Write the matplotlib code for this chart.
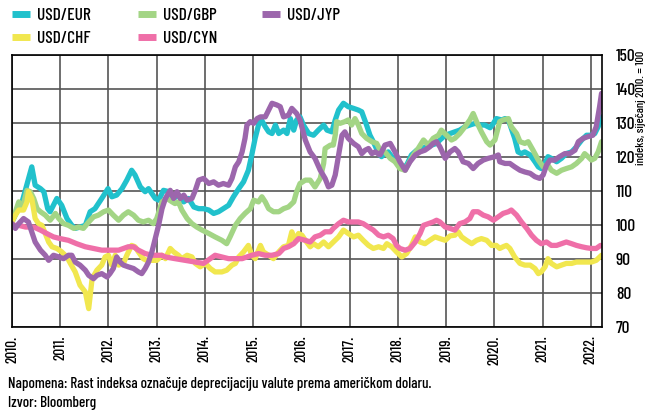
import matplotlib
matplotlib.use("Agg")
import matplotlib.pyplot as plt
import numpy as np

plt.rcParams['font.family'] = ['Barlow Condensed', 'DejaVu Sans']
plt.rcParams['font.weight'] = 'medium'

BASE = 2010.0

# years since January 2010, and index values (Jan 2010 = 100)
eur_t = [0, 0.10, 0.21, 0.41, 0.48, 0.59, 0.66, 0.74, 0.79, 0.93, 1.03, 1.14, 1.24, 1.31, 1.41, 1.52,
         1.62, 1.72, 1.86, 1.99, 2.07, 2.17, 2.28, 2.38, 2.48, 2.55, 2.66, 2.76, 2.83, 2.97, 3.04, 3.14,
         3.25, 3.35, 3.45, 3.56, 3.66, 3.77, 3.87, 3.97, 4.08, 4.18, 4.28, 4.38, 4.49, 4.59, 4.70, 4.80,
         4.90, 4.97, 5.04, 5.11, 5.17, 5.25, 5.32, 5.39, 5.46, 5.53, 5.63, 5.70, 5.77, 5.84, 5.90, 5.97,
         6.04, 6.15, 6.25, 6.35, 6.46, 6.53, 6.63, 6.70, 6.77, 6.87, 6.97, 7.08, 7.18, 7.25, 7.35, 7.42,
         7.49, 7.60, 7.66, 7.73, 7.80, 7.90, 8.01, 8.11, 8.18, 8.28, 8.39, 8.49, 8.59, 8.70, 8.80, 8.87,
         8.98, 9.08, 9.18, 9.28, 9.39, 9.49, 9.60, 9.70, 9.80, 9.91, 9.98, 10.04, 10.15, 10.22, 10.29,
         10.35, 10.42, 10.49, 10.56, 10.63, 10.74, 10.84, 10.91, 10.97, 11.05, 11.11, 11.18, 11.29,
         11.39, 11.49, 11.60, 11.70, 11.81, 11.91, 12.01, 12.08, 12.15, 12.22]
eur_v = [100.9, 103.9, 106.8, 117.1, 111.7, 110.7, 109.8, 104.8, 103.9, 107.8, 105.8, 101.9, 99.9, 99.0,
         99.4, 99.9, 103.9, 104.8, 107.8, 110.7, 108.3, 108.8, 110.7, 113.2, 116.1, 114.7, 111.2, 109.8,
         110.7, 107.8, 107.3, 110.2, 109.8, 107.8, 108.8, 106.8, 107.8, 105.3, 104.8, 104.8, 104.4, 103.4,
         103.9, 104.8, 105.8, 108.3, 110.7, 112.7, 116.1, 120.6, 125.5, 129.4, 130.9, 128.9, 127.4, 126.9,
         129.4, 126.9, 127.9, 126.9, 131.3, 127.9, 130.9, 131.8, 129.4, 126.9, 126.4, 127.9, 129.4, 127.9,
         127.4, 130.9, 133.8, 135.8, 134.8, 134.3, 133.8, 133.3, 129.4, 126.4, 124.5, 121.0, 120.1, 121.0,
         121.5, 119.6, 117.6, 117.1, 117.6, 120.6, 122.0, 122.5, 123.0, 123.5, 124.0, 125.0, 126.4, 126.9,
         127.4, 127.9, 128.9, 129.4, 129.9, 129.4, 129.4, 128.6, 129.9, 131.3, 130.9, 131.3, 130.9, 128.4,
         125.5, 121.5, 121.0, 121.5, 120.6, 118.6, 117.1, 116.6, 118.1, 120.1, 119.6, 118.6, 119.6, 121.0,
         121.5, 123.0, 125.0, 126.4, 126.4, 126.9, 128.9, 131.8]

gbp_t = [0, 0.07, 0.14, 0.21, 0.31, 0.38, 0.45, 0.52, 0.59, 0.69, 0.79, 0.90, 0.97, 1.07, 1.17, 1.28,
         1.38, 1.48, 1.59, 1.69, 1.79, 1.90, 2.00, 2.10, 2.21, 2.31, 2.41, 2.52, 2.62, 2.72, 2.83, 2.93,
         3.00, 3.11, 3.21, 3.32, 3.38, 3.45, 3.52, 3.63, 3.73, 3.83, 3.94, 4.08, 4.21, 4.35, 4.45, 4.52,
         4.63, 4.73, 4.83, 4.94, 5.01, 5.11, 5.18, 5.25, 5.32, 5.42, 5.53, 5.63, 5.73, 5.84, 5.90, 5.97,
         6.08, 6.18, 6.28, 6.39, 6.46, 6.49, 6.60, 6.66, 6.70, 6.73, 6.80, 6.90, 6.97, 7.04, 7.11, 7.18,
         7.25, 7.35, 7.46, 7.56, 7.63, 7.73, 7.84, 7.94, 8.04, 8.15, 8.22, 8.32, 8.42, 8.53, 8.63, 8.73,
         8.84, 8.90, 9.01, 9.11, 9.18, 9.28, 9.39, 9.49, 9.56, 9.63, 9.73, 9.84, 9.91, 10.01, 10.11,
         10.18, 10.29, 10.35, 10.46, 10.53, 10.63, 10.70, 10.80, 10.91, 11.01, 11.11, 11.18, 11.29,
         11.39, 11.49, 11.60, 11.70, 11.81, 11.87, 11.94, 12.01, 12.08, 12.15, 12.22]
gbp_v = [100.9, 103.9, 106.8, 104.8, 110.2, 109.8, 107.8, 104.8, 103.9, 102.9, 101.4, 103.4, 101.9,
         100.4, 99.9, 99.0, 99.4, 99.0, 100.9, 102.4, 102.9, 103.9, 104.4, 102.9, 101.4, 102.9, 103.9,
         102.9, 101.4, 100.9, 101.4, 100.4, 101.9, 106.8, 107.8, 106.8, 106.3, 106.8, 104.4, 101.9, 100.4,
         99.4, 98.5, 97.5, 96.5, 95.5, 94.5, 96.5, 99.9, 101.9, 103.4, 104.8, 107.3, 106.8, 108.3, 106.8,
         104.8, 103.9, 103.9, 104.8, 105.3, 106.8, 109.8, 112.2, 113.2, 113.2, 111.2, 113.7, 118.1, 122.5,
         123.5, 123.5, 126.4, 130.4, 129.9, 130.4, 130.9, 129.4, 131.3, 129.4, 126.9, 125.5, 124.5, 124.0,
         122.0, 121.5, 119.6, 118.6, 116.6, 116.1, 118.1, 120.6, 122.5, 125.0, 123.5, 125.5, 126.4, 127.9,
         126.4, 125.0, 125.5, 126.9, 128.9, 130.9, 132.8, 130.4, 127.4, 124.5, 123.5, 125.0, 130.4, 130.9,
         131.3, 128.9, 126.9, 124.5, 124.0, 124.5, 122.0, 119.1, 117.1, 117.6, 116.1, 115.2, 116.1, 116.6,
         117.1, 118.1, 119.6, 121.0, 120.1, 119.1, 119.6, 121.5, 124.5]

jpy_t = [0, 0.07, 0.14, 0.24, 0.34, 0.41, 0.48, 0.59, 0.69, 0.76, 0.86, 0.97, 1.07, 1.17, 1.24, 1.31,
         1.41, 1.52, 1.59, 1.69, 1.76, 1.86, 1.97, 2.03, 2.10, 2.17, 2.24, 2.31, 2.41, 2.52, 2.62, 2.69,
         2.76, 2.83, 2.90, 2.97, 3.04, 3.11, 3.18, 3.28, 3.35, 3.42, 3.49, 3.56, 3.63, 3.73, 3.80, 3.87,
         3.97, 4.08, 4.18, 4.28, 4.38, 4.49, 4.56, 4.63, 4.70, 4.77, 4.83, 4.87, 4.94, 5.01, 5.08, 5.15,
         5.25, 5.32, 5.39, 5.49, 5.56, 5.63, 5.73, 5.80, 5.90, 5.97, 6.08, 6.18, 6.28, 6.39, 6.49, 6.56,
         6.63, 6.70, 6.77, 6.84, 6.90, 6.97, 7.08, 7.18, 7.25, 7.32, 7.39, 7.46, 7.53, 7.63, 7.73, 7.84,
         7.94, 8.04, 8.15, 8.25, 8.36, 8.46, 8.56, 8.66, 8.73, 8.80, 8.87, 8.98, 9.08, 9.18, 9.25, 9.35,
         9.46, 9.56, 9.66, 9.77, 9.87, 10.01, 10.08, 10.11, 10.22, 10.32, 10.42, 10.53, 10.63, 10.74,
         10.84, 10.94, 11.01, 11.08, 11.15, 11.25, 11.35, 11.46, 11.56, 11.67, 11.74, 11.84, 11.94, 12.04,
         12.11, 12.18, 12.22]
jpy_v = [100.4, 99.0, 100.4, 101.9, 100.9, 98.0, 95.0, 92.6, 91.1, 89.6, 91.1, 90.6, 90.1, 91.1, 91.1,
         89.1, 88.2, 86.7, 85.2, 84.2, 85.2, 85.7, 84.7, 85.7, 87.2, 90.6, 89.1, 88.2, 87.7, 87.2, 86.2,
         85.7, 87.2, 89.1, 92.1, 96.0, 100.0, 104.8, 107.8, 110.2, 107.8, 109.8, 107.8, 108.8, 107.3, 107.8,
         110.2, 113.2, 113.7, 112.2, 112.7, 111.7, 112.2, 111.7, 113.7, 117.1, 118.6, 121.5, 125.5, 129.4,
         130.4, 129.9, 131.3, 131.8, 131.8, 133.8, 135.8, 135.3, 134.8, 131.8, 132.3, 134.3, 132.8, 130.9,
         125.0, 121.5, 119.6, 116.1, 113.7, 111.2, 111.7, 114.7, 120.6, 126.4, 127.4, 125.5, 124.0, 123.0,
         121.0, 122.0, 122.5, 121.0, 121.5, 120.6, 123.5, 124.0, 121.5, 118.6, 116.1, 118.6, 120.6, 121.5,
         122.0, 123.0, 124.0, 124.5, 123.0, 119.6, 121.5, 122.5, 121.5, 118.6, 118.1, 116.6, 118.1, 119.1,
         119.6, 120.1, 120.6, 118.6, 118.1, 118.1, 117.1, 116.1, 115.6, 115.2, 114.2, 113.7, 114.7, 117.6,
         119.1, 119.1, 120.1, 121.0, 121.0, 122.0, 124.5, 125.5, 126.0, 126.4, 128.9, 134.8, 138.7]

chf_t = [0, 0.07, 0.14, 0.24, 0.31, 0.34, 0.41, 0.48, 0.55, 0.62, 0.69, 0.76, 0.83, 0.93, 1.03, 1.14,
         1.21, 1.31, 1.41, 1.52, 1.59, 1.66, 1.76, 1.86, 1.93, 2.00, 2.07, 2.14, 2.21, 2.31, 2.38, 2.48,
         2.55, 2.62, 2.72, 2.79, 2.90, 3.00, 3.04, 3.11, 3.18, 3.28, 3.35, 3.45, 3.52, 3.63, 3.73, 3.80,
         3.90, 4.01, 4.11, 4.21, 4.35, 4.45, 4.56, 4.63, 4.70, 4.80, 4.90, 4.97, 5.04, 5.15, 5.21, 5.32,
         5.42, 5.53, 5.63, 5.73, 5.80, 5.87, 5.94, 6.01, 6.08, 6.18, 6.25, 6.35, 6.46, 6.56, 6.66, 6.77,
         6.87, 6.97, 7.08, 7.18, 7.28, 7.39, 7.49, 7.60, 7.70, 7.77, 7.87, 7.97, 8.08, 8.18, 8.28, 8.36,
         8.46, 8.56, 8.66, 8.77, 8.87, 8.98, 9.08, 9.18, 9.25, 9.32, 9.42, 9.53, 9.63, 9.73, 9.84, 9.94,
         10.04, 10.11, 10.18, 10.25, 10.32, 10.42, 10.53, 10.63, 10.74, 10.84, 10.91, 10.97, 11.05,
         11.11, 11.18, 11.29, 11.39, 11.49, 11.60, 11.70, 11.81, 11.91, 12.01, 12.11, 12.22]
chf_v = [100.9, 102.9, 104.4, 104.4, 106.8, 109.8, 107.8, 101.9, 100.4, 99.9, 97.5, 95.0, 93.6, 93.1,
         92.1, 90.6, 88.7, 86.2, 82.3, 80.3, 75.4, 84.2, 86.7, 88.2, 90.6, 91.1, 88.2, 91.1, 88.2, 88.7,
         91.1, 94.0, 93.6, 92.1, 90.1, 89.6, 89.6, 89.6, 90.1, 91.1, 90.1, 93.1, 92.1, 91.1, 90.1, 91.1,
         90.6, 88.7, 87.7, 88.7, 87.2, 86.2, 86.2, 86.7, 88.2, 88.7, 90.6, 92.1, 94.0, 91.1, 90.1, 94.0,
         92.1, 91.1, 90.1, 92.1, 93.6, 94.0, 98.0, 95.5, 97.5, 97.0, 95.5, 93.6, 94.5, 93.6, 95.0, 93.6,
         95.0, 96.5, 98.5, 97.5, 96.5, 97.0, 95.5, 94.0, 93.1, 93.6, 93.1, 94.5, 93.6, 92.1, 90.6, 91.6,
         94.0, 96.5, 95.0, 94.5, 95.5, 96.5, 96.0, 95.5, 96.8, 97.0, 98.0, 96.5, 95.5, 94.5, 95.5, 96.0,
         95.5, 94.0, 94.0, 93.1, 93.6, 94.0, 93.1, 90.6, 88.7, 88.2, 88.2, 87.2, 85.7, 86.2, 87.7, 90.1,
         88.7, 87.7, 88.2, 88.7, 88.7, 89.1, 89.1, 89.1, 89.1, 89.6, 91.1]

cny_t = [0, 0.14, 0.28, 0.45, 0.59, 0.72, 0.86, 1.00, 1.17, 1.34, 1.52, 1.69, 1.86, 2.03, 2.21, 2.31,
         2.41, 2.52, 2.62, 2.76, 2.90, 3.10, 3.18, 3.38, 3.59, 3.80, 3.97, 4.11, 4.21, 4.35, 4.49, 4.63,
         4.77, 4.87, 4.97, 5.11, 5.25, 5.39, 5.53, 5.63, 5.73, 5.84, 5.94, 6.08, 6.18, 6.28, 6.39, 6.49,
         6.60, 6.66, 6.77, 6.87, 6.97, 7.08, 7.18, 7.28, 7.39, 7.49, 7.60, 7.70, 7.80, 7.90, 7.97, 8.04,
         8.15, 8.25, 8.36, 8.46, 8.53, 8.63, 8.73, 8.80, 8.87, 8.98, 9.08, 9.18, 9.28, 9.39, 9.49, 9.56,
         9.66, 9.77, 9.87, 9.98, 10.08, 10.18, 10.29, 10.35, 10.46, 10.56, 10.67, 10.77, 10.87, 10.97,
         11.08, 11.18, 11.29, 11.39, 11.49, 11.60, 11.70, 11.81, 11.91, 12.01, 12.11, 12.20]
cny_v = [99.9, 99.9, 99.4, 99.4, 98.5, 97.5, 96.5, 96.0, 95.5, 94.5, 93.6, 93.1, 92.6, 92.6, 92.6, 93.1,
         93.6, 93.6, 92.6, 91.6, 91.1, 91.1, 90.6, 90.1, 89.6, 89.1, 88.7, 90.1, 91.1, 90.6, 90.1, 90.1,
         90.1, 90.6, 91.1, 91.6, 91.1, 91.1, 91.6, 93.1, 93.6, 94.5, 96.0, 95.5, 95.0, 96.5, 97.0, 98.0,
         98.0, 99.0, 100.4, 101.4, 100.9, 100.9, 100.9, 100.4, 99.4, 98.5, 97.0, 96.5, 97.0, 96.0, 94.0,
         93.1, 92.6, 93.1, 95.0, 97.5, 99.9, 100.4, 100.9, 101.4, 100.9, 99.4, 99.0, 98.5, 100.4, 100.9,
         101.9, 103.9, 103.9, 102.9, 102.4, 101.4, 102.4, 103.4, 103.9, 104.4, 102.9, 100.9, 99.0, 97.0,
         95.5, 94.5, 95.0, 94.0, 94.0, 94.5, 95.0, 94.5, 94.0, 93.6, 93.3, 93.1, 93.1, 94.0]

years = list(range(2010, 2023))
year_labels = [f"{y}." for y in years]
yticks = [70, 80, 90, 100, 110, 120, 130, 140, 150]

series = [
    ("USD/EUR", eur_t, eur_v, "#21c1cc"),
    ("USD/GBP", gbp_t, gbp_v, "#a3d585"),
    ("USD/CHF", chf_t, chf_v, "#f1e74f"),
    ("USD/CYN", cny_t, cny_v, "#ef6fa8"),
    ("USD/JYP", jpy_t, jpy_v, "#9c66ac"),
]

fig = plt.figure(figsize=(6.56, 4.12), dpi=100)
ax = fig.add_axes([12/656, 1-327/412, 590/656, 272/412])

lines = {}
for name, t, v, c in series:
    x = BASE + np.asarray(t)
    ln, = ax.plot(x, v, color=c, lw=3.8, solid_joinstyle='round', solid_capstyle='round', label=name)
    lines[name] = ln

ax.set_xlim(2010.0, 2022.23)
ax.set_ylim(70, 150)
ax.set_xticks(years)
ax.set_xticklabels(year_labels, rotation=90, fontsize=11)
ax.set_yticks(yticks)
ax.yaxis.tick_right()
ax.tick_params(axis='y', length=0, pad=10, labelsize=12.5)
ax.tick_params(axis='x', length=0, pad=6)
ax.grid(True, color='#555555', lw=1.2)
ax.set_axisbelow(True)
for s in ax.spines.values():
    s.set_color('black')
    s.set_linewidth(1.2)

fig.text(641/656, 1-51/412, "indeks, siječanj 2010. = 100", rotation=90, ha='center', va='top', fontsize=8.8)

# legend: three columns placed at the reference's column positions
legend_cols = [(["USD/EUR", "USD/CHF"], 12), (["USD/GBP", "USD/CYN"], 138), (["USD/JYP"], 262)]
for names, xpx in legend_cols:
    leg = fig.legend([lines[n] for n in names], names, loc='upper left',
                     bbox_to_anchor=(xpx/656, 1-8/412), ncol=1, frameon=False, fontsize=12.5,
                     handlelength=1.05, handletextpad=0.4, labelspacing=0.45,
                     borderpad=0, borderaxespad=0)
    for h in leg.get_lines():
        h.set_linewidth(5)
        h.set_solid_capstyle('butt')

fig.text(8/656, 1-384/412, "Napomena: Rast indeksa označuje deprecijaciju valute prema američkom dolaru.",
         ha='left', va='center', fontsize=10.9)
fig.text(8/656, 1-403/412, "Izvor: Bloomberg", ha='left', va='center', fontsize=10.9)

fig.savefig("out.png", dpi=100)
